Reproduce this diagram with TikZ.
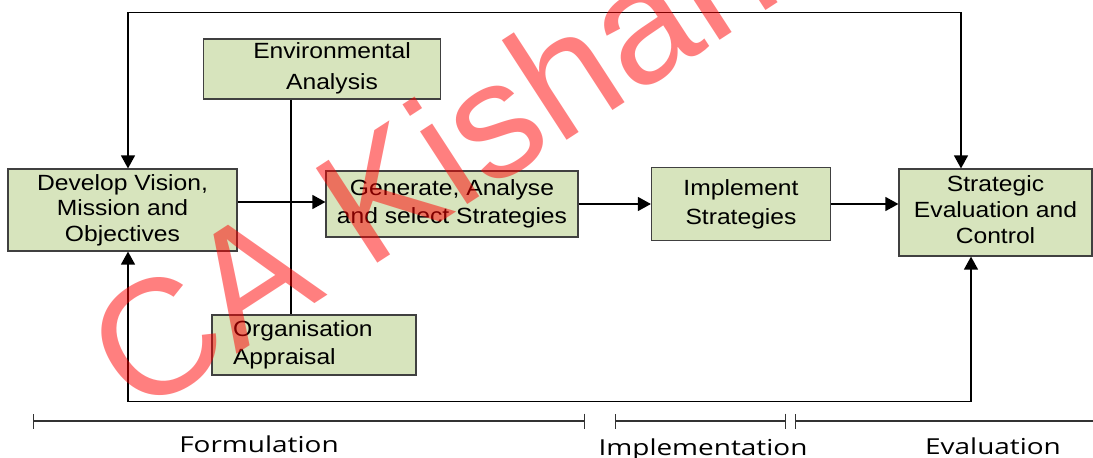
\documentclass[tikz,border=0pt]{standalone}
\usepackage{fontspec}
\setmainfont{Liberation Sans}
\newfontfamily\boxfont[FakeStretch=1.12]{Liberation Sans}
\newfontfamily\phasefont[FakeStretch=1.27]{Open Sans}
\newfontfamily\wmfont{Liberation Sans}
\usetikzlibrary{arrows.meta}
\definecolor{boxgreen}{HTML}{D7E4BD}
\begin{document}
\begin{tikzpicture}[x=1pt,y=-1pt,
  box/.style={draw=black!75, line width=1.2pt, fill=boxgreen, inner sep=0pt, align=center,
    font=\boxfont\fontsize{22}{25.5}\selectfont},
  txt/.style={inner sep=0pt, align=center, font=\boxfont\fontsize{22}{25.5}\selectfont},
  conn/.style={line width=1.3pt, draw=black},
  arr/.style={conn, -{Triangle[length=13pt,width=14pt]}},
  biarr/.style={conn, {Triangle[length=13pt,width=14pt]}-{Triangle[length=13pt,width=14pt]}},
  tl/.style={line width=1.3pt, draw=black!80},
  phase/.style={inner sep=0pt, anchor=base, font=\phasefont\fontsize{22}{24}\selectfont},
  wm/.style={inner sep=0pt, anchor=base west, rotate=33, text=red, opacity=0.5,
    font=\wmfont\fontsize{164}{164}\selectfont}]
\useasboundingbox (0,0) rectangle (1093,458);
\clip (0,0) rectangle (1093,458);

% boxes
\node[box, minimum width=229pt, minimum height=82pt] (dev) at (122.5,210)
  {Develop Vision,\\Mission and\\Objectives};
\node[box, minimum width=237pt, minimum height=60pt] (ea) at (322,69) {};
\node[txt, font=\boxfont\fontsize{22}{31}\selectfont] (eatext) at (332,68) {Environmental\\Analysis};
\node[box, minimum width=204pt, minimum height=60pt, align=left, text width=162pt, inner xsep=21pt,
  font=\boxfont\fontsize{22}{28}\selectfont] (org) at (314,345) {Organisation\\Appraisal};
\node[box, minimum width=252pt, minimum height=66pt, font=\boxfont\fontsize{22}{28}\selectfont]
  (gen) at (452,204) {Generate, Analyse\\and select Strategies};
\node[box, minimum width=179pt, minimum height=73pt, font=\boxfont\fontsize{22}{29}\selectfont]
  (imp) at (741,204) {Implement\\Strategies};
\node[box, minimum width=193pt, minimum height=87pt, font=\boxfont\fontsize{22}{26}\selectfont]
  (strat) at (995.5,212.5) {Strategic\\Evaluation and\\Control\rule[-6pt]{0pt}{6pt}};

% connectors
\draw[arr] ([yshift=8pt]dev.east) -- ([yshift=2pt]gen.west);
\draw[arr] (gen.east) -- (imp.west |- gen.east);
\draw[arr] (imp.east) -- (strat.west |- imp.east);
\draw[conn] ([xshift=-31pt]ea.south) -- ([xshift=-23pt]org.north);
\draw[biarr] ([xshift=5.5pt]dev.north) -- ++(0,-156) -| ([xshift=-34.5pt]strat.north);
\draw[biarr] ([xshift=5.5pt]dev.south) -- ++(0,150) -| ([xshift=-24.5pt]strat.south);

% timeline
\draw[tl, {Bar[width=15pt]}-{Bar[width=15pt]}] (33,421) -- (585,421);
\draw[tl, {Bar[width=15pt]}-{Bar[width=15pt]}] (615,421) -- (786,421);
\draw[tl, {Bar[width=15pt]}-] (795,421) -- (1093,421);
\node[phase] (form) at (259,452) {Formulation};
\node[phase] (impl) at (703,455) {Implementation};
\node[phase] (eval) at (993,454) {Evaluation};

% watermark
\node[wm] (mark) at (137,419) {CA Kishan};
\end{tikzpicture}
\end{document}
